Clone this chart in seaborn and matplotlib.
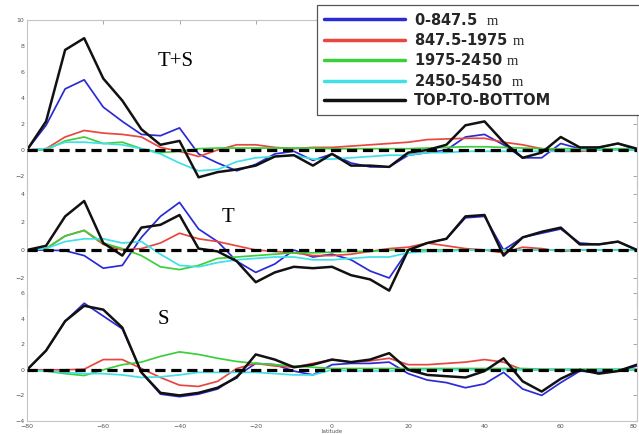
import numpy as np
import pandas as pd
import matplotlib
matplotlib.use("Agg")
import matplotlib.pyplot as plt
import seaborn as sns

sns.set_theme(style="white")
plt.rcParams['font.family'] = ['DejaVu Sans']
plt.rcParams['mathtext.fontset'] = 'custom'
plt.rcParams['mathtext.rm'] = 'Liberation Serif'

# latitude grid
lat = [-80, -75, -70, -65, -60, -55, -50, -45, -40, -35, -30, -25, -20, -15, -10, -5,
       0, 5, 10, 15, 20, 25, 30, 35, 40, 45, 50, 55, 60, 65, 70, 75, 80]

layers = ['0-847.5', '847.5-1975', '1975-2450', '2450-5450', 'TOP-TO-BOTTOM']
legend_labels = ['0-847.5  $\\mathrm{m}$', '847.5-1975 $\\mathrm{m}$', '1975-2450 $\\mathrm{m}$',
                 '2450-5450  $\\mathrm{m}$', 'TOP-TO-BOTTOM']
colors = ['#2b2bd6', '#e8473f', '#3ccf3c', '#3fe0e6', '#111111']

# T+S panel
ts_blue = [0, 1.9, 4.7, 5.4, 3.3, 2.2, 1.2, 1.1, 1.7, -0.3, -1.0, -1.6, -1.1, -0.3, -0.1, -0.8,
           -0.3, -1.0, -1.3, -1.3, -0.4, -0.2, 0, 1.0, 1.2, 0.4, -0.6, -0.6, 0.5, 0.1, 0.2, 0.5, 0]
ts_red = [0, 0.1, 1.0, 1.5, 1.3, 1.2, 1.0, 0.2, -0.1, -0.5, 0.0, 0.4, 0.4, 0.2, 0.1, 0.2,
          0.2, 0.3, 0.4, 0.5, 0.6, 0.8, 0.85, 0.9, 0.9, 0.6, 0.4, 0.1, -0.1, -0.1, 0, 0, 0]
ts_green = [0, 0, 0.7, 1.0, 0.5, 0.6, 0.1, -0.2, -0.1, 0.1, 0.15, 0.15, 0.15, 0.15, 0.15, 0.15,
            0.1, 0.1, 0.1, 0.1, 0.1, 0.15, 0.2, 0.25, 0.25, 0.2, 0.15, 0.1, 0.1, 0.1, 0.1, 0.1, 0.1]
ts_cyan = [0, 0.1, 0.6, 0.6, 0.5, 0.4, 0.1, -0.3, -1.0, -1.6, -1.5, -0.9, -0.6, -0.5, -0.4, -0.7,
           -0.7, -0.6, -0.5, -0.4, -0.4, -0.2, -0.2, -0.1, -0.1, -0.1, -0.1, -0.1, -0.1, 0, 0, 0, 0]
ts_total = [0, 2.2, 7.7, 8.6, 5.5, 3.8, 1.6, 0.4, 0.7, -2.1, -1.7, -1.5, -1.2, -0.5, -0.4, -1.2,
            -0.3, -1.2, -1.2, -1.3, -0.2, 0, 0.4, 1.9, 2.2, 0.6, -0.6, -0.2, 1.0, 0.2, 0.2, 0.5, 0.1]

# T panel
t_blue = [0, 0, -0.05, -0.4, -1.3, -1.1, 0.9, 2.4, 3.4, 1.5, 0.6, -0.8, -1.6, -1.0, 0, -0.5,
          -0.3, -0.7, -1.5, -2.0, 0, 0.5, 0.8, 2.3, 2.4, 0, 0.9, 1.2, 1.5, 0.5, 0.4, 0.6, 0]
t_red = [0, 0.1, 1.0, 1.4, 0.4, 0, 0.1, 0.5, 1.2, 0.8, 0.6, 0.3, 0, -0.1, -0.2, -0.4,
         -0.4, -0.3, -0.1, 0.1, 0.2, 0.5, 0.3, 0.1, 0, -0.2, 0.2, 0.1, -0.1, 0, 0, 0, 0]
t_green = [0, 0.1, 1.0, 1.4, 0.5, 0.1, -0.4, -1.2, -1.4, -1.1, -0.6, -0.5, -0.4, -0.3, -0.2, -0.2,
           -0.15, -0.1, -0.1, 0, 0, 0, 0, 0, 0, 0, 0, 0, 0, 0, 0, 0, 0]
t_cyan = [0, 0.1, 0.6, 0.8, 0.8, 0.5, 0.6, -0.3, -1.1, -1.2, -0.9, -0.7, -0.6, -0.5, -0.5, -0.7,
          -0.7, -0.6, -0.5, -0.5, -0.2, -0.1, -0.1, 0, 0, 0, 0, 0, 0, 0, 0, 0, 0]
t_total = [0, 0.3, 2.4, 3.5, 0.5, -0.4, 1.6, 1.8, 2.5, 0.1, -0.1, -0.8, -2.3, -1.6, -1.2, -1.3,
           -1.2, -1.8, -2.1, -2.9, 0, 0.5, 0.8, 2.4, 2.5, -0.4, 0.9, 1.3, 1.6, 0.4, 0.4, 0.6, 0]

# S panel
s_blue = [0, 1.5, 3.8, 5.2, 4.2, 3.2, -0.2, -1.9, -2.1, -1.9, -1.5, -0.5, 0.5, 0.4, -0.1, -0.4,
          0.4, 0.5, 0.5, 0.6, -0.3, -0.8, -1.0, -1.4, -1.1, -0.2, -1.5, -2.0, -1.0, -0.1, -0.2, -0.1, 0.3]
s_red = [0, 0, 0, 0.05, 0.8, 0.8, 0.1, -0.6, -1.2, -1.3, -0.9, 0.1, 0.5, 0.3, 0.2, 0.5,
         0.8, 0.6, 0.7, 0.9, 0.4, 0.4, 0.5, 0.6, 0.8, 0.6, 0, 0, 0, 0, 0, 0, 0]
s_green = [0, -0.1, -0.3, -0.45, 0, 0.4, 0.6, 1.05, 1.4, 1.2, 0.9, 0.65, 0.5, 0.4, 0.3, 0.2,
           0.1, 0.1, 0.1, 0.1, 0.1, 0.1, 0.1, 0.1, 0.1, 0.1, 0.1, 0.05, 0.05, 0.05, 0.05, 0.05, 0.05]
s_cyan = [0, -0.1, -0.2, -0.3, -0.3, -0.4, -0.6, -0.55, -0.4, -0.2, -0.2, -0.2, -0.2, -0.3, -0.4, -0.4,
          0, -0.1, -0.1, -0.1, 0, 0, 0, 0, 0, 0, 0, 0, 0, 0, 0, 0, 0]
s_total = [0, 1.5, 3.8, 5.0, 4.7, 3.3, -0.2, -1.8, -2.0, -1.8, -1.4, -0.6, 1.2, 0.8, 0.2, 0.4,
           0.8, 0.6, 0.8, 1.3, 0, -0.4, -0.5, -0.6, -0.1, 0.9, -0.9, -1.7, -0.7, 0, -0.3, -0.1, 0.4]


def panel_frame(series):
    parts = [pd.DataFrame({'lat': lat, 'value': vals, 'layer': name})
             for name, vals in zip(layers, series)]
    return pd.concat(parts, ignore_index=True)


W, H = 639, 434
fig = plt.figure(figsize=(W / 100, H / 100), dpi=100)
left, width = 27 / W, 610 / W
# (ylim, top pixel, bottom pixel)
specs = [((-3, 10), 20, 189), ((-4, 5), 180, 306), ((-4, 6), 293, 421)]
axes = []
for (ylim, ytop, ybot) in specs:
    ax = fig.add_axes([left, (H - ybot) / H, width, (ybot - ytop) / H])
    ax.set_facecolor('none')
    axes.append(ax)

panels = [(ts_blue, ts_red, ts_green, ts_cyan, ts_total),
          (t_blue, t_red, t_green, t_cyan, t_total),
          (s_blue, s_red, s_green, s_cyan, s_total)]
titles = [('T+S', -41, 6.8), ('T', -27.3, 2.3), ('S', -44.3, 3.9)]
yticks = [[-2, 0, 2, 4, 6, 8, 10], [-2, 0, 2, 4], [-4, -2, 0, 2, 4, 6]]

for i, (ax, series, spec) in enumerate(zip(axes, panels, specs)):
    df = panel_frame(series)
    sns.lineplot(data=df, x='lat', y='value', hue='layer', hue_order=layers,
                 palette=dict(zip(layers, colors)), ax=ax, linewidth=1.25,
                 legend=(i == 0))
    for line in ax.get_lines()[4:5]:
        line.set_linewidth(1.8)
    ax.axhline(0, color='black', lw=2.3, ls=(0, (3.2, 1.8)), zorder=5)
    ax.set_xlim(-80, 80)
    ax.set_ylim(*spec[0])
    ax.set_yticks(yticks[i])
    ax.set_xticks([-80, -60, -40, -20, 0, 20, 40, 60, 80])
    ax.set_xlabel('')
    ax.set_ylabel('')
    ax.tick_params(direction='in', length=3, width=0.6, color='#9a9a9a',
                   labelsize=4.5, labelcolor='#555555', pad=2, right=True)
    for s in ax.spines.values():
        s.set_color('#c4c4c4')
        s.set_linewidth(0.8)
    ax.spines['bottom'].set_visible(i == 2)
    ax.spines['top'].set_visible(i == 0)
    if i == 0:
        ax.tick_params(axis='x', top=True, bottom=False, labelbottom=False)
    elif i == 1:
        ax.tick_params(axis='x', bottom=False, labelbottom=False)
    else:
        ax.set_xlabel('latitude', fontsize=4, color='#555555', labelpad=0)
        xlabels = ax.get_xticklabels()
        xlabels[-1].set_horizontalalignment('right')
    txt, tx, ty = titles[i]
    ax.text(tx, ty, txt, family='Liberation Serif', fontsize=15,
            ha='center', va='center', color='black')

handles, _ = axes[0].get_legend_handles_labels()
axes[0].get_legend().remove()
leg = fig.legend(handles, legend_labels, loc='upper left',
                 bbox_to_anchor=(317 / W, 1 - 5 / H, 340 / W, 0), mode='expand',
                 frameon=True, fancybox=False, edgecolor='#555555', framealpha=1,
                 handlelength=5.6, handletextpad=0.6, labelspacing=0.3,
                 borderpad=0.45, borderaxespad=0,
                 prop={'family': 'DejaVu Sans', 'weight': 'bold', 'size': 10.5})
leg.get_frame().set_linewidth(0.9)
for h in leg.legend_handles:
    h.set_linewidth(2.5)

fig.savefig('out.png', dpi=100)
